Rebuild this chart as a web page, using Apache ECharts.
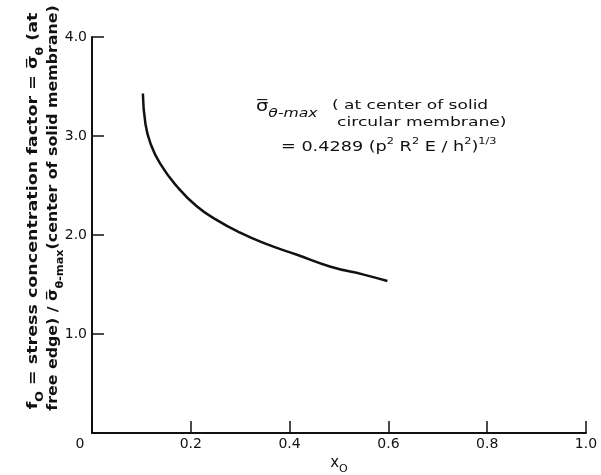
<!DOCTYPE html>
<html>
<head>
<meta charset="utf-8">
<script src="https://cdn.jsdelivr.net/npm/echarts@6/dist/echarts.min.js"></script>
<style>
  html, body { margin: 0; padding: 0; background: #fff; }
  #chart { width: 601px; height: 475px; }
</style>
</head>
<body>
<div id="chart"></div>
<script>
// curve
const xo = [0.103, 0.108, 0.118, 0.138, 0.172, 0.212, 0.253, 0.297, 0.347, 0.415, 0.483, 0.550, 0.598]
const fo = [3.43, 3.13, 2.93, 2.72, 2.49, 2.29, 2.15, 2.03, 1.92, 1.80, 1.68, 1.60, 1.535]

const xTicks = [0, 0.2, 0.4, 0.6, 0.8, 1.0]
const yTicks = [0, 1.0, 2.0, 3.0, 4.0]

const font = 'DejaVu Sans'
const ink = '#111'

const chart = echarts.init(document.getElementById('chart'))

const sub = { fontSize: 10, verticalAlign: 'bottom', padding: [0, 0, -5, 0], fontFamily: font, fill: ink }
const subBold = Object.assign({}, sub, { fontWeight: 'bold' })
const sup = { fontSize: 9, verticalAlign: 'top', lineHeight: 8, fontFamily: font, fill: ink }

const option = {
  backgroundColor: '#fff',
  animation: false,
  grid: { left: 92, right: 15, top: 37, bottom: 42, outerBoundsMode: 'none' },
  xAxis: {
    type: 'value',
    min: xTicks[0],
    max: xTicks[xTicks.length - 1],
    interval: 0.2,
    name: 'x{o|O}',
    nameLocation: 'middle',
    nameGap: 23,
    nameTextStyle: {
      fontFamily: font, fontSize: 15, color: ink,
      rich: { o: { fontSize: 11, verticalAlign: 'bottom', padding: [0, 0, -4, 0], fontFamily: font, color: ink } }
    },
    axisLine: { lineStyle: { color: ink, width: 2 } },
    axisTick: { inside: true, length: 12, lineStyle: { color: ink, width: 1.5 } },
    axisLabel: {
      fontFamily: font, fontSize: 14, color: ink, margin: 4,
      formatter: v => v === 0 ? '{z|0}' : v.toFixed(1),
      rich: { z: { padding: [0, 24, 0, 0], fontFamily: font, fontSize: 14, color: ink } }
    },
    splitLine: { show: false }
  },
  yAxis: {
    type: 'value',
    min: yTicks[0],
    max: yTicks[yTicks.length - 1],
    interval: 1,
    axisLine: { show: true, lineStyle: { color: ink, width: 2 } },
    axisTick: { show: true, inside: true, length: 12, lineStyle: { color: ink, width: 1.5 } },
    axisLabel: {
      fontFamily: font, fontSize: 14, color: ink, margin: 5,
      formatter: v => v === 0 ? '' : v.toFixed(1)
    },
    splitLine: { show: false }
  },
  graphic: [
    {
      type: 'text', x: 33, y: 211, rotation: Math.PI / 2, scaleX: 1.25,
      style: {
        text: 'f{s|O} = stress concentration factor = σ̅{s|θ} (at',
        fontFamily: font, fontSize: 14, fontWeight: 'bold', fill: ink,
        align: 'center', verticalAlign: 'middle',
        rich: { s: subBold }
      }
    },
    {
      type: 'text', x: 53, y: 208, rotation: Math.PI / 2, scaleX: 1.13,
      style: {
        text: 'free edge) / σ̅{s|θ-max}(center of solid membrane)',
        fontFamily: font, fontSize: 14, fontWeight: 'bold', fill: ink,
        align: 'center', verticalAlign: 'middle',
        rich: { s: subBold }
      }
    },
    {
      type: 'text', x: 256, y: 107, scaleX: 1.3,
      style: {
        text: 'σ̅{s|θ-max}',
        fontFamily: font, fontSize: 15, fill: ink,
        align: 'left', verticalAlign: 'middle',
        rich: { s: Object.assign({}, sub, { fontSize: 12, fontStyle: 'italic' }) }
      }
    },
    {
      type: 'text', x: 332, y: 106, scaleX: 1.31,
      style: {
        text: '( at center of solid',
        fontFamily: font, fontSize: 13, fill: ink,
        align: 'left', verticalAlign: 'middle'
      }
    },
    {
      type: 'text', x: 337, y: 123, scaleX: 1.32,
      style: {
        text: 'circular membrane)',
        fontFamily: font, fontSize: 13, fill: ink,
        align: 'left', verticalAlign: 'middle'
      }
    },
    {
      type: 'text', x: 281, y: 147, scaleX: 1.26,
      style: {
        text: '= 0.4289 (p{u|2} R{u|2} E / h{u|2}){u|1/3}',
        fontFamily: font, fontSize: 14, fill: ink,
        align: 'left', verticalAlign: 'middle', lineHeight: 20,
        rich: { u: sup }
      }
    }
  ],
  series: [
    {
      type: 'line',
      data: xo.map((x, i) => [x, fo[i]]),
      smooth: true,
      showSymbol: false,
      lineStyle: { color: ink, width: 2.5 }
    }
  ]
}

chart.setOption(option)
</script>
</body>
</html>
